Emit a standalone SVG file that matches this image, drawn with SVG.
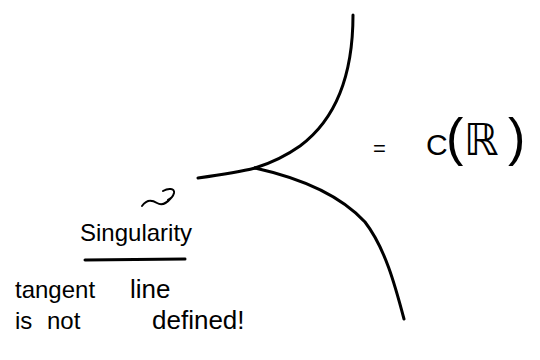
<svg xmlns="http://www.w3.org/2000/svg" width="540" height="360" viewBox="0 0 540 360">
<style>
.ink{fill:none;stroke:#000;stroke-width:3;stroke-linecap:round;stroke-linejoin:round}
.thin{fill:none;stroke:#000;stroke-width:2;stroke-linecap:round;stroke-linejoin:round}
.hand{font-family:"Liberation Sans","DejaVu Sans",sans-serif;fill:#000}
</style>
<rect width="540" height="360" fill="#fff"/>
<g id="curve">
<path class="ink" d="M353,15 C353,75 335,120 300,146 C283,158 268,164 255,168"/>
<path class="ink" d="M255,168 C300,178 340,195 365,222 C385,248 395,285 404,319"/>
<path class="ink" d="M255,168 C240,172 220,175 198,178"/>
</g>
<g id="equation">
<text class="hand" x="373" y="156" font-size="22">=</text>
<text class="hand" y="155"><tspan x="426" font-size="30">C</tspan><tspan x="446" font-size="52">(</tspan><tspan x="464" font-size="44">ℝ</tspan><tspan x="508" font-size="52">)</tspan></text>
</g>
<g id="singularity">
<path class="thin" d="M142,206 C147,199 152,200 157,203 C162,206 166,204 171,198 M163,191 C168,188 175,188 174,193 C173,197 170,199 168,200"/>
<text class="hand" x="80" y="241" font-size="24">Singularity</text>
<path class="ink" d="M85,260 L185,259"/>
</g>
<g id="note">
<text class="hand" y="298" font-size="24"><tspan x="15">tangent</tspan><tspan x="130" font-size="26">line</tspan></text>
<text class="hand" y="329" font-size="24"><tspan x="15">is</tspan><tspan x="47">not</tspan><tspan x="152" font-size="26">defined!</tspan></text>
</g>
</svg>
